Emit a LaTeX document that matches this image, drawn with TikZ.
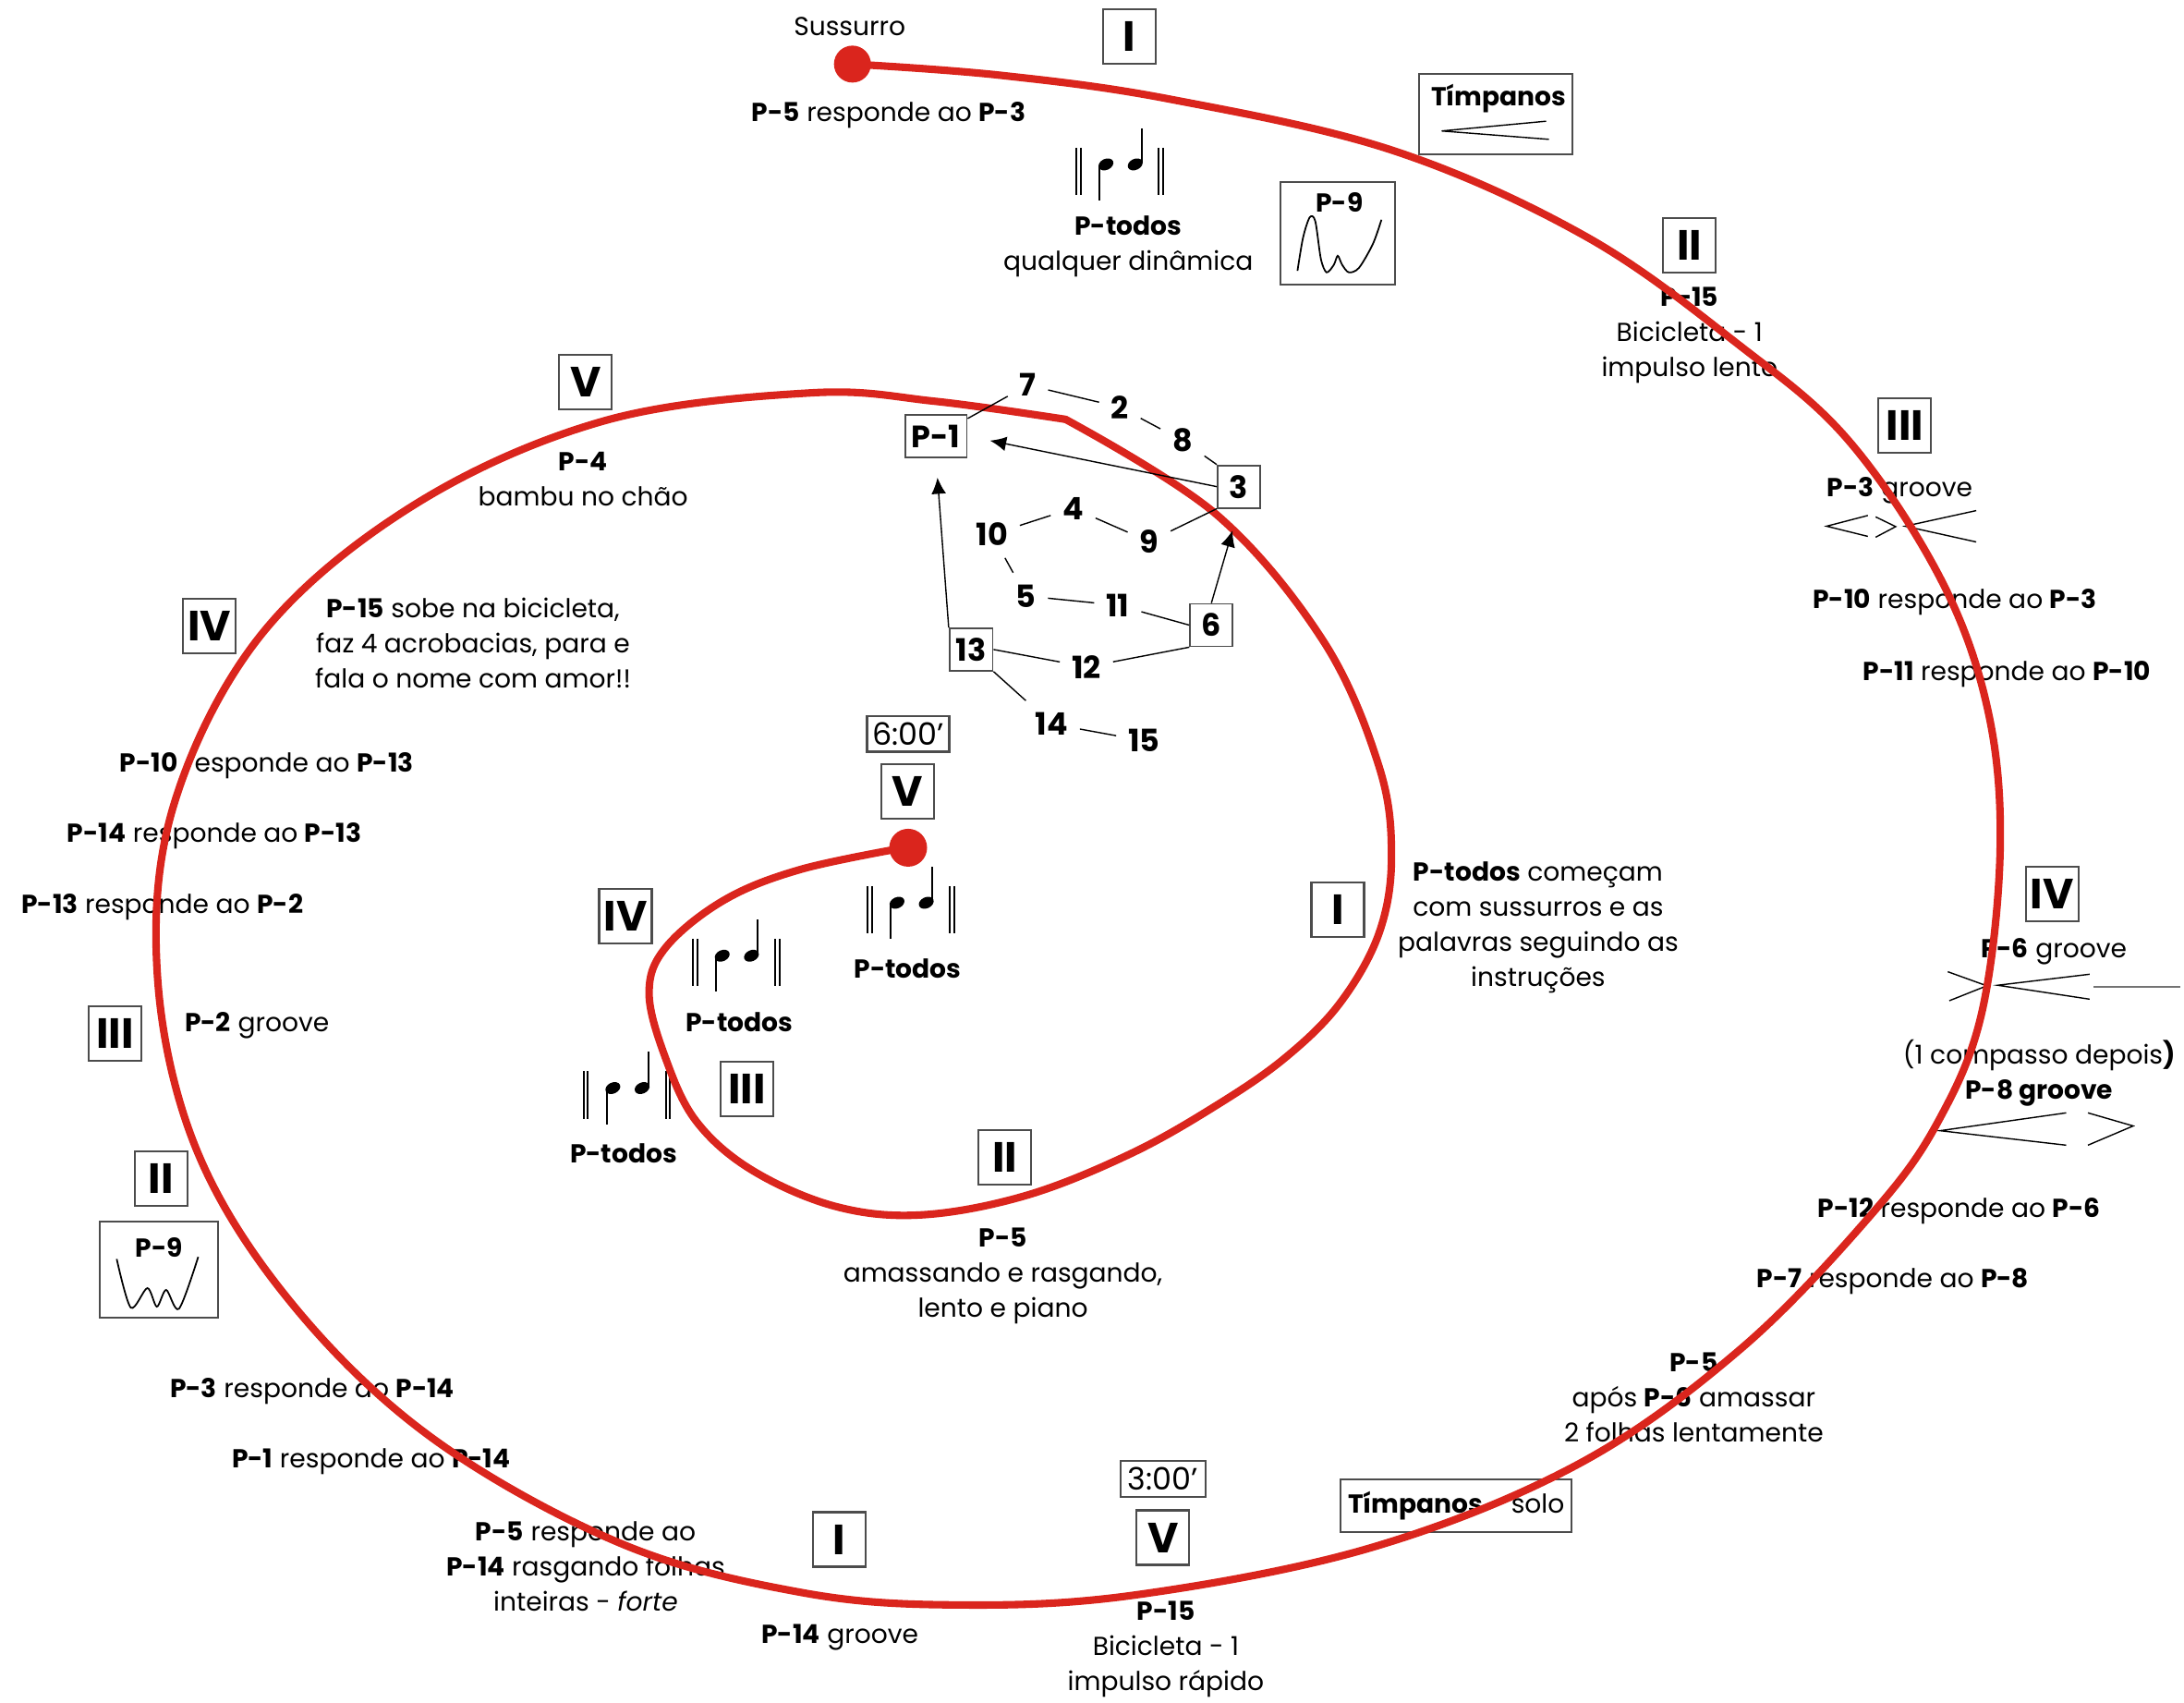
\documentclass[tikz,border=0pt]{standalone}
\usepackage{fontspec}
\setmainfont{Poppins}
\usetikzlibrary{arrows.meta}

\definecolor{vermelho}{RGB}{218,37,29}

\tikzset{
  secao/.style={draw=black!70, line width=0.6pt, minimum width=0.57cm,
    minimum height=0.59cm, inner sep=0pt, font=\fontsize{13}{13}\selectfont\bfseries},
  caixa/.style={draw=black!70, line width=0.6pt, inner sep=2pt},
  texto/.style={align=center, inner sep=0pt, font=\fontsize{8}{10.8}\selectfont},
  num/.style={inner sep=3.5pt, font=\fontsize{9.5}{9.5}\selectfont\bfseries},
  numcaixa/.style={num, draw=black!70, line width=0.5pt, inner xsep=2pt,
    inner ysep=1pt, minimum width=0.46cm, minimum height=0.46cm},
  espiral/.style={vermelho, line width=2.3pt, line join=round, line cap=round},
  fio/.style={line width=0.4pt},
  seta/.style={fio, -{Latex[length=5pt, width=4.5pt]}},
  grampo/.style={line width=0.4pt},
}

% barras duplas e duas seminimas
\newcommand{\notas}[1]{%
  \begin{scope}[shift={#1}, line width=0.55pt]
    \draw (-31,-12) -- (-31,22) (-28,-12) -- (-28,22);
    \draw (28,-12) -- (28,22) (31,-12) -- (31,22);
    \draw (-14.5,1) -- (-14.5,26);
    \fill (-10,0) circle [x radius=2.4pt, y radius=1.7pt, rotate=25];
    \draw (15.5,-1) -- (15.5,-26);
    \fill (11,0) circle [x radius=2.4pt, y radius=1.7pt, rotate=25];
  \end{scope}}

\begin{document}
\begin{tikzpicture}[x=0.015077cm, y=-0.015077cm]
\useasboundingbox (0,0) rectangle (1568,1222);

% topo
\node[texto] (sussurro) at (610,19) {Sussurro};
\node[texto] (r53) at (638,83) {\textbf{P-5} responde ao \textbf{P-3}};
\node[secao] (s1a) at (811,26) {I};
\notas{(804,118)}
\node[texto] (todos1) at (810,177) {\textbf{P-todos}\\qualquer dinâmica};
\node[caixa, minimum width=1.66cm, minimum height=0.87cm] (timp1) at (1074,82) {};
\node[texto] (timp1t) at (1076,71) {\textbf{Tímpanos}};
\draw[grampo] (1110,87) -- (1035,94) -- (1112,100);
\node[caixa, minimum width=1.24cm, minimum height=1.11cm] (p9a) at (960.6,167.4) {};
\node[texto] (p9at) at (961.6,145) {\textbf{P-9}};
\draw[line width=0.5pt] plot[smooth, tension=0.5] coordinates {(931.5,194.4) (935.5,170.6)
  (940.3,156) (944.3,158.8) (948.3,185.8) (952.4,195.5) (957.6,190.1) (960.4,183.6)
  (963.6,190.1) (968.4,195.5) (975.7,192.2) (985.7,175) (991.8,157.7)};

% lado direito
\node[secao] (s2a) at (1213,176) {II};
\node[texto] (p15a) at (1213,240.5) {\textbf{P-15}\\Bicicleta - 1\\impulso lento};
\node[secao] (s3a) at (1367.6,305.2) {III};
\node[texto] (g3) at (1364,352) {\textbf{P-3} groove};
\draw[grampo] (1341,370) -- (1311.4,377.7) -- (1341,385);
\draw[grampo] (1346.6,371) -- (1361,378) -- (1346.6,385.6);
\draw[grampo] (1418.8,366.5) -- (1367.7,377.7) -- (1418.8,389);
\node[texto] (r103) at (1403.5,432.5) {\textbf{P-10} responde ao \textbf{P-3}};
\node[texto] (r1110) at (1440.8,484) {\textbf{P-11} responde ao \textbf{P-10}};
\node[secao] (s4a) at (1473.2,641.6) {IV};
\node[texto] (g6) at (1474.5,683) {\textbf{P-6} groove};
\draw[grampo] (1398.4,697.5) -- (1426.4,707.6) -- (1399.5,718.3);
\draw[grampo] (1500.2,699.3) -- (1434.2,707.2) -- (1500.2,717.2);
\draw[black!55, line width=0.6pt] (1503,708.3) -- (1565,708.3);
\node[texto] (g8) at (1464,770.5) {(1 compasso depois\textbf{)}\\\textbf{P-8 groove}};
\draw[grampo] (1483.4,798.8) -- (1392.8,811.6) -- (1483.4,822);
\draw[grampo] (1499,798.8) -- (1531.5,808.2) -- (1499,822);
\node[texto] (r126) at (1406.5,869) {\textbf{P-12} responde ao \textbf{P-6}};
\node[texto] (r78) at (1359,920) {\textbf{P-7} responde ao \textbf{P-8}};
\node[texto] (p5a) at (1216,1003) {\textbf{P-5}\\após \textbf{P-6} amassar\\2 folhas lentamente};

% base
\node[caixa, texto, minimum width=2.5cm, minimum height=0.57cm] (timp2) at (1045.5,1081) {\textbf{Tímpanos} - solo};
\node[caixa, inner sep=1pt, minimum width=0.92cm, minimum height=0.39cm,
  font=\fontsize{9.5}{9.5}\selectfont] (t300) at (835,1061.5) {3:00’};
\node[secao] (s5b) at (835,1103.7) {V};
\node[texto] (p15b) at (837,1184) {\textbf{P-15}\\Bicicleta - 1\\impulso rápido};
\node[secao] (s1b) at (602.6,1105) {I};
\node[texto] (g14) at (603,1175) {\textbf{P-14} groove};
\node[texto] (r514) at (420.5,1124.5) {\textbf{P-5} responde ao\\\textbf{P-14} rasgando folhas\\inteiras - \textit{forte}};
\node[texto] (r114) at (266.5,1049.4) {\textbf{P-1} responde ao \textbf{P-14}};
\node[texto] (r314) at (224.2,998.4) {\textbf{P-3} responde ao \textbf{P-14}};

% lado esquerdo
\node[secao] (s2b) at (115.6,845.8) {II};
\node[caixa, minimum width=1.28cm, minimum height=1.04cm] (p9b) at (113.9,911.6) {};
\node[texto] (p9bt) at (114.2,895.3) {\textbf{P-9}};
\draw[line width=0.5pt] plot[smooth, tension=0.5] coordinates {(83.8,903.7) (93.9,938.6)
  (105.8,924.6) (112.6,937.9) (119.3,925.9) (128.5,939.4) (142.3,902.2)};
\node[secao] (s3b) at (82.5,742) {III};
\node[texto] (g2) at (184.5,736) {\textbf{P-2} groove};
\node[texto] (r132) at (116.5,651) {\textbf{P-13} responde ao \textbf{P-2}};
\node[texto] (r1413) at (154,600) {\textbf{P-14} responde ao \textbf{P-13}};
\node[texto] (r1013) at (191.5,549.4) {\textbf{P-10} responde ao \textbf{P-13}};
\node[secao] (s4b) at (150.4,449.5) {IV};
\node[texto] (p15c) at (339.6,461.5) {\textbf{P-15} sobe na bicicleta,\\faz 4 acrobacias, para e\\fala o nome com amor!!};
\node[secao] (s5a) at (420.4,274.2) {V};
\node[texto] (p4) at (418.6,344) {\textbf{P-4}\\bambu no chão};

% volta interna
\node[caixa, inner sep=1pt, minimum width=0.89cm, minimum height=0.385cm,
  font=\fontsize{9.5}{9.5}\selectfont] (t600) at (652,526.8) {6:00’};
\node[secao] (s5c) at (651.4,568) {V};
\notas{(654,648)}
\node[texto] (todos2) at (651.6,695.4) {\textbf{P-todos}};
\node[secao] (s4c) at (449,657.5) {IV};
\notas{(528.5,686)}
\node[texto] (todos3) at (530.7,734) {\textbf{P-todos}};
\node[secao] (s3c) at (536.4,781.4) {III};
\notas{(450,781)}
\node[texto] (todos4) at (447.7,828) {\textbf{P-todos}};
\node[secao] (s2c) at (721.5,831) {II};
\node[texto] (p5b) at (720,916) {\textbf{P-5}\\amassando e rasgando,\\lento e piano};
\node[secao] (s1c) at (960.4,653.2) {I};
\node[texto] (todos5) at (1104.3,665.5) {\textbf{P-todos} começam\\com sussurros e as\\palavras seguindo as\\instruções};

% espiral
\draw[espiral] plot[smooth, tension=0.6] coordinates {(612,46) (718,54) (839,71)
  (1000,108) (1139,170) (1249,248) (1327,316) (1393,415) (1427,509) (1436,609)
  (1423,726) (1392,804) (1345,870) (1250,968) (1133,1051) (984,1111) (814,1145)
  (686,1152) (575,1143) (446,1108) (310,1032) (209,935) (141,825) (113,700)
  (125,577) (188,455) (298,362) (434,302) (582,282) (671,288) (765,301)};
\draw[espiral] plot[smooth, tension=0.6] coordinates {(765,301) (873,369) (950,460)
  (990,550) (999,615) (990,670) (962,720) (923,759) (874,793) (812,828) (737,858)
  (662,872) (600,866) (540,840) (500,805) (478,760) (466,713) (478,680) (520,646)
  (575,624) (652,608)};
\fill[vermelho] (612,46) circle (0.2cm);
\fill[vermelho] (652,608.5) circle (0.205cm);

% rede central
\node[numcaixa] (p1) at (672,313) {P-1};
\node[num] (n7) at (738,276.4) {7};
\node[num] (n2) at (804,292.3) {2};
\node[num] (n8) at (848.9,316.2) {8};
\node[numcaixa] (n3) at (889.4,349.3) {3};
\node[num] (n4) at (770.4,364.8) {4};
\node[num] (n10) at (712.2,383.6) {10};
\node[num] (n9) at (825,388.7) {9};
\node[num] (n5) at (736.6,427.8) {5};
\node[num] (n11) at (802.5,434.4) {11};
\node[numcaixa] (n6) at (869.7,448.7) {6};
\node[numcaixa] (n13) at (697.2,466.2) {13};
\node[num] (n12) at (780,478.7) {12};
\node[num] (n14) at (755,519.6) {14};
\node[num] (n15) at (821.3,531.7) {15};

\foreach \a/\b in {p1/n7, n7/n2, n2/n8, n8/n3.north west, n3.south west/n9, n9/n4,
  n4/n10, n10/n5, n5/n11, n11/n6.west, n6.south west/n12, n12/n13.east,
  n13.south east/n14, n14/n15}
  \draw[fio] (\a) -- (\b);
\draw[seta, shorten >=7pt] (n3.west) -- (p1.east);
\draw[seta, shorten >=7pt] (n6.north) -- (n3.south);
\draw[seta, shorten >=6pt] (n13.north west) -- (p1.south);
\end{tikzpicture}
\end{document}
